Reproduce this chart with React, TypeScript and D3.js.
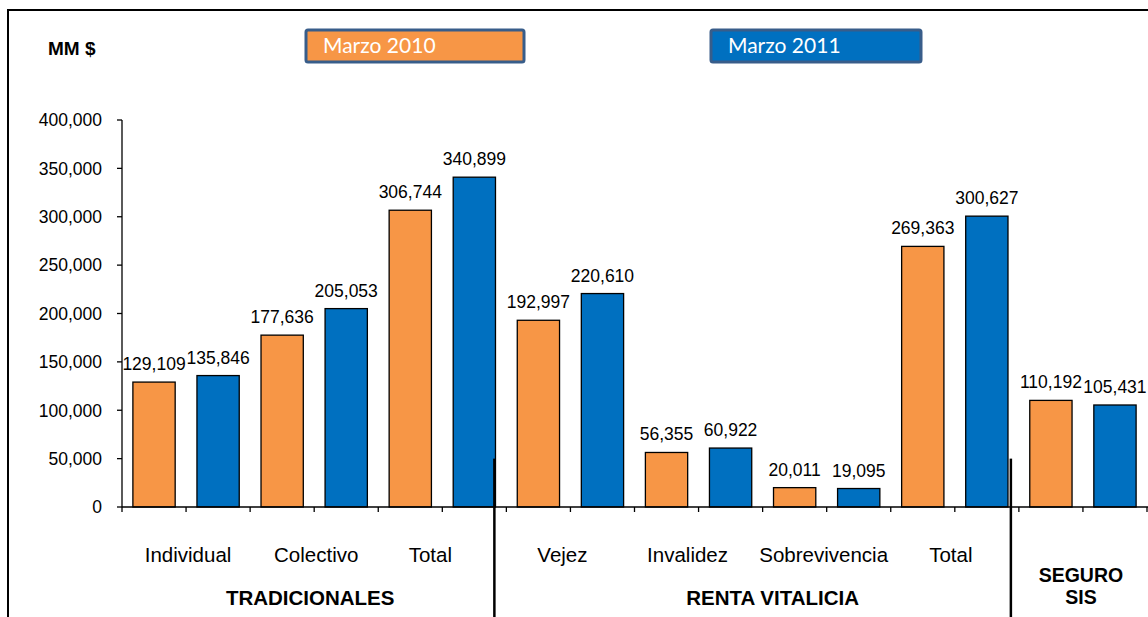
import React from "react";
import * as d3 from "d3";

// ---- data ----
const categories = [
  "Individual", "Individual", "Colectivo", "Colectivo", "Total", "Total",
  "Vejez", "Vejez", "Invalidez", "Invalidez", "Sobrevivencia", "Sobrevivencia",
  "Total", "Total", "SIS", "SIS",
];
const series = ["Marzo 2010", "Marzo 2011"];
const values = [
  129109, 135846, 177636, 205053, 306744, 340899,
  192997, 220610, 56355, 60922, 20011, 19095,
  269363, 300627, 110192, 105431,
];
const seriesOfBar = [0, 1, 0, 1, 0, 1, 0, 1, 0, 1, 0, 1, 0, 1, 0, 1];
const pairLabels = ["Individual", "Colectivo", "Total", "Vejez", "Invalidez", "Sobrevivencia", "Total"];
const groups = [
  { name: ["TRADICIONALES"], start: 0, end: 6 },
  { name: ["RENTA VITALICIA"], start: 6, end: 14 },
  { name: ["SEGURO", "SIS"], start: 14, end: 16 },
];
const yTicks = [0, 50000, 100000, 150000, 200000, 250000, 300000, 350000, 400000];
const unitLabel = "MM $";

// ---- layout / style ----
const W = 1148;
const H = 617;
const colors = ["#F79646", "#0070C0"];
const pairNudge = [2, 2, -12, -8, -11, -3, -4];
const groupNudge = [-4, 10, -2];
const sepNudge = [-12, -8];
const legendBoxes = [
  { x: 306, w: 218 },
  { x: 711, w: 210 },
];
const labelFont = "'Liberation Sans', Arial, sans-serif";

export default function App() {
  const x = d3
    .scaleBand<number>()
    .domain(d3.range(values.length))
    .range([122, 1147])
    .paddingInner(0.34)
    .paddingOuter(0.17);
  const step = x.step();
  const left = 122;
  const boundary = (i: number) => left + i * step;
  const y = d3.scaleLinear().domain([0, 400000]).range([507, 120]);
  const fmt = d3.format(",");

  return (
    <svg
      width={W}
      height={H}
      style={{ position: "absolute", left: 0, top: 0, background: "#fff" }}
    >
      <rect x={0} y={0} width={W} height={H} fill="#fff" />
      {/* outer frame */}
      <rect x={8} y={10} width={W + 50} height={H + 50} fill="none" stroke="#000" strokeWidth={2} />

      {/* unit label */}
      <text x={48} y={55} fontFamily={labelFont} fontWeight="bold" fontSize={19}>
        {unitLabel}
      </text>

      {/* legend */}
      {series.map((s, i) => (
        <g key={s}>
          <rect
            x={legendBoxes[i].x}
            y={30}
            width={legendBoxes[i].w}
            height={32}
            rx={2}
            fill={colors[i]}
            stroke="#385D8A"
            strokeWidth={3}
          />
          <text
            x={legendBoxes[i].x + 17}
            y={53}
            fill="#fff"
            fontFamily="Lato, 'Open Sans', sans-serif"
            fontSize={21}
          >
            {s}
          </text>
        </g>
      ))}

      {/* bars */}
      {values.map((v, i) => (
        <rect
          key={i}
          x={x(i)!}
          y={y(v)}
          width={x.bandwidth()}
          height={y(0) - y(v)}
          fill={colors[seriesOfBar[i]]}
          stroke="#000"
          strokeWidth={1.3}
        />
      ))}

      {/* value labels */}
      {values.map((v, i) => (
        <text
          key={"v" + i}
          x={x(i)! + x.bandwidth() / 2}
          y={y(v) - 12}
          textAnchor="middle"
          fontFamily={labelFont}
          fontSize={17.5}
          fill="#000"
        >
          {fmt(v)}
        </text>
      ))}

      {/* y axis */}
      <line x1={left} x2={left} y1={y(400000)} y2={y(0)} stroke="#000" strokeWidth={1.3} />
      {yTicks.map((t) => (
        <g key={t}>
          <line x1={left - 5} x2={left} y1={y(t)} y2={y(t)} stroke="#000" strokeWidth={1.3} />
          <text
            x={102}
            y={y(t)}
            dy="0.36em"
            textAnchor="end"
            fontFamily={labelFont}
            fontSize={17.5}
          >
            {fmt(t)}
          </text>
        </g>
      ))}

      {/* x axis */}
      <line x1={left} x2={W} y1={y(0)} y2={y(0)} stroke="#000" strokeWidth={1.3} />
      {d3.range(values.length + 1).map((i) => (
        <line
          key={"t" + i}
          x1={boundary(i)}
          x2={boundary(i)}
          y1={y(0)}
          y2={y(0) + 5}
          stroke="#000"
          strokeWidth={1.3}
        />
      ))}

      {/* pair labels */}
      {pairLabels.map((l, p) => (
        <text
          key={"p" + p}
          x={boundary(p * 2 + 1) + pairNudge[p]}
          y={562}
          textAnchor="middle"
          fontFamily={labelFont}
          fontSize={20.5}
        >
          {l}
        </text>
      ))}

      {/* group labels */}
      {groups.map((g, gi) => {
        const cx = (boundary(g.start) + boundary(g.end)) / 2 + groupNudge[gi];
        const lines = g.name;
        return (
          <text
            key={"g" + gi}
            textAnchor="middle"
            fontFamily={labelFont}
            fontWeight="bold"
            fontSize={lines.length > 1 ? 19.5 : 20.5}
          >
            {lines.map((ln, li) => (
              <tspan key={li} x={cx} y={lines.length > 1 ? 582 + li * 22 : 605}>
                {ln}
              </tspan>
            ))}
          </text>
        );
      })}

      {/* group separators */}
      {groups.slice(0, 2).map((g, gi) => (
        <line
          key={"s" + gi}
          x1={boundary(g.end) + sepNudge[gi]}
          x2={boundary(g.end) + sepNudge[gi]}
          y1={y(50000)}
          y2={H}
          stroke="#000"
          strokeWidth={2.5}
        />
      ))}
    </svg>
  );
}
